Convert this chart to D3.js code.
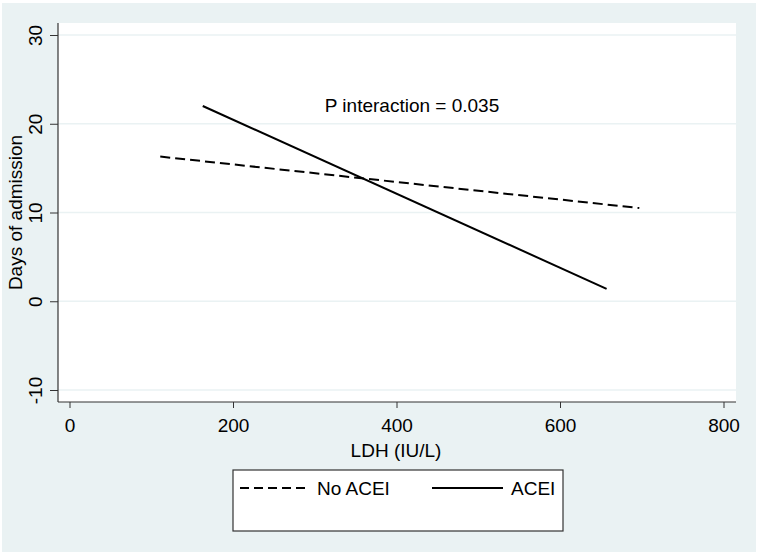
<!DOCTYPE html>
<html>
<head>
<meta charset="utf-8">
<script src="https://cdn.jsdelivr.net/npm/d3@7"></script>
<style>
html,body{margin:0;padding:0;background:#fff;}
svg{display:block;}
text{font-family:"Liberation Sans",Arial,sans-serif;fill:#000;}
</style>
</head>
<body>
<script>
// ---- data ----
const seriesNames = ["No ACEI", "ACEI"];
const ldhNoACEI = [111, 697];
const daysNoACEI = [16.3, 10.5];
const ldhACEI = [163, 657];
const daysACEI = [22.0, 1.4];
const xTicks = [0, 200, 400, 600, 800];
const yTicks = [-10, 0, 10, 20, 30];
const xTitle = "LDH (IU/L)";
const yTitle = "Days of admission";
const note = "P interaction = 0.035";

const W = 761, H = 555;
const svg = d3.select("body").append("svg").attr("width", W).attr("height", H);
const fmt = d => String(d); // plain hyphen minus as in the reference

// outer graph region
svg.append("rect").attr("x", 2).attr("y", 3).attr("width", 754).attr("height", 549).attr("fill", "#eaf2f3");

const plot = {left: 58, right: 736, top: 23, bottom: 402};
svg.append("rect").attr("x", plot.left).attr("y", plot.top)
  .attr("width", plot.right - plot.left).attr("height", plot.bottom - plot.top).attr("fill", "#fff");

const x = d3.scaleLinear().domain([0, 800]).range([69.5, 723.5]);
const y = d3.scaleLinear().domain([-10, 30]).range([390, 35]);

// gridlines
svg.append("g").selectAll("line").data(yTicks).join("line")
  .attr("x1", plot.left).attr("x2", plot.right)
  .attr("y1", d => y(d)).attr("y2", d => y(d))
  .attr("stroke", "#eaf2f3").attr("stroke-width", 1.3);

const fs = 19;
const ff = "'Liberation Sans',Arial,sans-serif";
// y axis
const gy = svg.append("g").attr("transform", `translate(${plot.left},0)`)
  .call(d3.axisLeft(y).tickValues(yTicks).tickSize(8).tickSizeOuter(0).tickFormat(fmt));
gy.select(".domain").remove();
gy.selectAll(".tick line").attr("stroke", "#333");
gy.selectAll(".tick text")
  .attr("transform", "rotate(-90)")
  .attr("x", 0).attr("y", -23).attr("dy", "0.35em")
  .attr("text-anchor", "middle")
  .style("font-size", fs + "px").style("font-family", ff).attr("fill", "#000");
svg.append("line").attr("x1", plot.left).attr("x2", plot.left).attr("y1", plot.top).attr("y2", plot.bottom)
  .attr("stroke", "#333").attr("stroke-width", 1.2);

// x axis
const gx = svg.append("g").attr("transform", `translate(0,${plot.bottom})`)
  .call(d3.axisBottom(x).tickValues(xTicks).tickSize(6).tickSizeOuter(0).tickFormat(fmt));
gx.select(".domain").remove();
gx.selectAll(".tick line").attr("stroke", "#333");
gx.selectAll(".tick text").attr("y", 23).attr("dy", "0.35em")
  .style("font-size", fs + "px").style("font-family", ff).attr("fill", "#000");
svg.append("line").attr("x1", plot.left).attr("x2", plot.right).attr("y1", plot.bottom).attr("y2", plot.bottom)
  .attr("stroke", "#333").attr("stroke-width", 1.2);

// axis titles
svg.append("text").attr("x", 396).attr("y", 450).attr("dy", "0.35em")
  .attr("text-anchor", "middle").style("font-size", fs + "px").text(xTitle);
svg.append("text").attr("transform", `translate(15,${(plot.top + plot.bottom) / 2}) rotate(-90)`)
  .attr("dy", "0.35em").attr("text-anchor", "middle").style("font-size", fs + "px").text(yTitle);

// lines
const line = d3.line().x(d => x(d[0])).y(d => y(d[1]));
svg.append("path").datum(d3.zip(ldhNoACEI, daysNoACEI)).attr("d", line)
  .attr("fill", "none").attr("stroke", "#000").attr("stroke-width", 2).attr("stroke-dasharray", "10,5");
svg.append("path").datum(d3.zip(ldhACEI, daysACEI)).attr("d", line)
  .attr("fill", "none").attr("stroke", "#000").attr("stroke-width", 2);

// annotation
svg.append("text").attr("x", 412).attr("y", 112).attr("text-anchor", "middle")
  .style("font-size", fs + "px").text(note);

// legend
const lg = svg.append("g");
lg.append("rect").attr("x", 233).attr("y", 470).attr("width", 330).attr("height", 61)
  .attr("fill", "#fff").attr("stroke", "#333").attr("stroke-width", 1.2);
const ly = 488;
lg.append("line").attr("x1", 240).attr("x2", 310).attr("y1", ly).attr("y2", ly)
  .attr("stroke", "#000").attr("stroke-width", 2).attr("stroke-dasharray", "9,5");
lg.append("text").attr("x", 317).attr("y", ly).attr("dy", "0.35em").style("font-size", fs + "px").text(seriesNames[0]);
lg.append("line").attr("x1", 432).attr("x2", 503).attr("y1", ly).attr("y2", ly)
  .attr("stroke", "#000").attr("stroke-width", 2);
lg.append("text").attr("x", 511).attr("y", ly).attr("dy", "0.35em").style("font-size", fs + "px").text(seriesNames[1]);
</script>
</body>
</html>
